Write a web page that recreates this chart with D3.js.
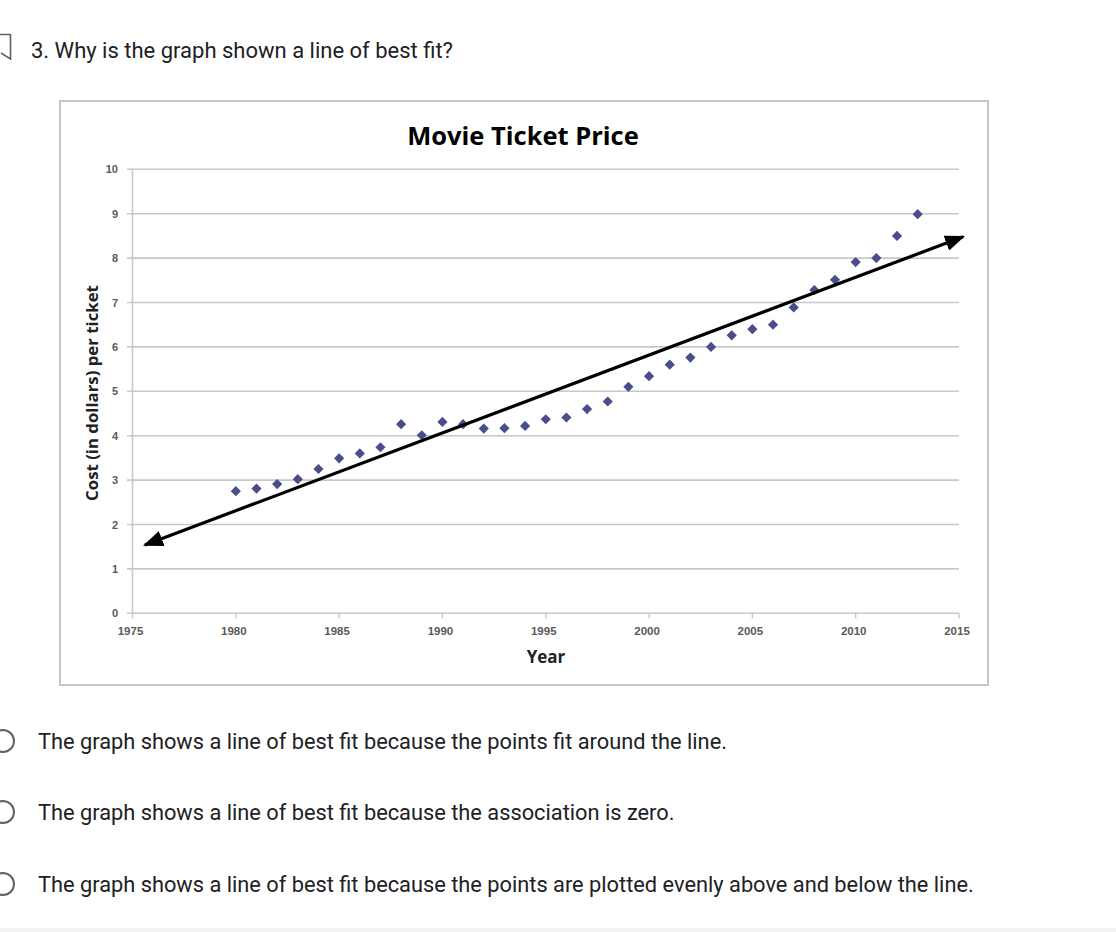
<!DOCTYPE html>
<html><head><meta charset="utf-8">
<script src="https://cdn.jsdelivr.net/npm/d3@7"></script>
<style>
html,body{margin:0;padding:0;background:#fff;}
svg{display:block;}
</style></head>
<body>
<script>
const question = "3. Why is the graph shown a line of best fit?";
const options = [
  "The graph shows a line of best fit because the points fit around the line.",
  "The graph shows a line of best fit because the association is zero.",
  "The graph shows a line of best fit because the points are plotted evenly above and below the line."
];
const chartTitle = "Movie Ticket Price";
const xTitle = "Year";
const yTitle = "Cost (in dollars) per ticket";
const years = [1980,1981,1982,1983,1984,1985,1986,1987,1988,1989,1990,1991,1992,1993,1994,1995,1996,1997,1998,1999,2000,2001,2002,2003,2004,2005,2006,2007,2008,2009,2010,2011,2012,2013];
const prices = [2.75,2.81,2.91,3.02,3.25,3.49,3.60,3.74,4.26,4.01,4.31,4.26,4.16,4.17,4.22,4.37,4.41,4.60,4.77,5.10,5.34,5.60,5.76,6.00,6.26,6.40,6.50,6.89,7.28,7.51,7.91,8.00,8.50,8.99];
const fitYears = [1975.6, 2015.2];
const fitValues = [1.54, 8.48];
const xTicks = [1975,1980,1985,1990,1995,2000,2005,2010,2015];
const yTicks = [0,1,2,3,4,5,6,7,8,9,10];

const W = 1116, H = 932;
const svg = d3.select("body").append("svg").attr("width", W).attr("height", H);

const defs = svg.append("defs");
["start","end"].forEach(k => {
  defs.append("marker").attr("id","arrow-"+k)
    .attr("markerUnits","userSpaceOnUse")
    .attr("viewBox","0 0 20 16").attr("refX", 18).attr("refY", 8)
    .attr("markerWidth", 20).attr("markerHeight", 16)
    .attr("orient", k === "start" ? "auto-start-reverse" : "auto")
    .append("path").attr("d","M0,0 L20,8 L0,16 Z").attr("fill","#000");
});

// question header
svg.append("path").attr("d","M-2,34.5 H10.5 V59 L1,53")
  .attr("fill","none").attr("stroke","#5f6368").attr("stroke-width",1.6);
svg.append("text").attr("x",31).attr("y",58).text(question)
  .attr("font-family","Roboto").attr("font-size",22).attr("fill","#202124");

// chart frame
svg.append("rect").attr("x",60).attr("y",101).attr("width",928).attr("height",584)
  .attr("fill","#fff").attr("stroke","#c6c6c6").attr("stroke-width",2);

const x = d3.scaleLinear().domain([1975,2015]).range([132.5,959]);
const y = d3.scaleLinear().domain([0,10]).range([613.3,169.3]);

const g = svg.append("g");
g.selectAll("line.grid").data(yTicks).join("line").attr("class","grid")
  .attr("x1", 127).attr("x2", x(2015))
  .attr("y1", d => y(d)).attr("y2", d => y(d))
  .attr("stroke","#c8c8c8").attr("stroke-width",1.6);
g.append("line").attr("x1",x(1975)).attr("x2",x(1975)).attr("y1",y(10)).attr("y2",y(0))
  .attr("stroke","#c8c8c8").attr("stroke-width",1.6);
g.selectAll("line.xt").data(xTicks).join("line").attr("class","xt")
  .attr("x1", d => x(d)).attr("x2", d => x(d))
  .attr("y1", y(0)).attr("y2", y(0)+5)
  .attr("stroke","#c8c8c8").attr("stroke-width",1.4);

g.selectAll("text.yl").data(yTicks).join("text").attr("class","yl")
  .attr("x", 118).attr("y", d => y(d)+4).attr("text-anchor","end")
  .text(d => d)
  .attr("font-family","Liberation Sans Narrow, Liberation Sans").attr("font-size",11).attr("font-weight","bold").attr("fill","#595959");
g.selectAll("text.xl").data(xTicks).join("text").attr("class","xl")
  .attr("x", d => x(d) - 2).attr("y", 635).attr("text-anchor","middle")
  .text(d => d)
  .attr("font-family","Liberation Sans Narrow, Liberation Sans").attr("font-size",11.5).attr("font-weight","bold").attr("fill","#595959");

svg.append("text").attr("x",523).attr("y",145).attr("text-anchor","middle").text(chartTitle)
  .attr("font-family","Open Sans").attr("font-weight","bold").attr("font-size",25.5).attr("fill","#000");
svg.append("text").attr("x",546).attr("y",663).attr("text-anchor","middle").text(xTitle)
  .attr("font-family","Open Sans").attr("font-weight","bold").attr("font-size",17).attr("fill","#222");
svg.append("text").attr("transform","translate(98,393) rotate(-90)").attr("text-anchor","middle").text(yTitle)
  .attr("font-family","Open Sans").attr("font-weight","bold").attr("font-size",16.8).attr("fill","#222");

const sym = d3.symbol().type(d3.symbolSquare).size(52);
g.selectAll("path.pt").data(years.map((yr,i)=>({yr, v:prices[i]}))).join("path").attr("class","pt")
  .attr("d", sym)
  .attr("transform", d => `translate(${x(d.yr)},${y(d.v)}) rotate(45)`)
  .attr("fill","#4a4d8c");

g.append("line")
  .attr("x1", x(fitYears[0])).attr("y1", y(fitValues[0]))
  .attr("x2", x(fitYears[1])).attr("y2", y(fitValues[1]))
  .attr("stroke","#000").attr("stroke-width",3.2)
  .attr("marker-start","url(#arrow-start)").attr("marker-end","url(#arrow-end)");

const optY = [741, 812, 884];
options.forEach((t,i) => {
  svg.append("circle").attr("cx",3).attr("cy",optY[i]).attr("r",11)
    .attr("fill","none").attr("stroke","#5f6368").attr("stroke-width",2);
  svg.append("text").attr("x",38).attr("y",optY[i]+8).text(t)
    .attr("font-family","Roboto").attr("font-size",21.8).attr("fill","#202124");
});

svg.append("rect").attr("x",0).attr("y",928).attr("width",W).attr("height",4).attr("fill","#f3f3f3");
</script>
</body></html>
